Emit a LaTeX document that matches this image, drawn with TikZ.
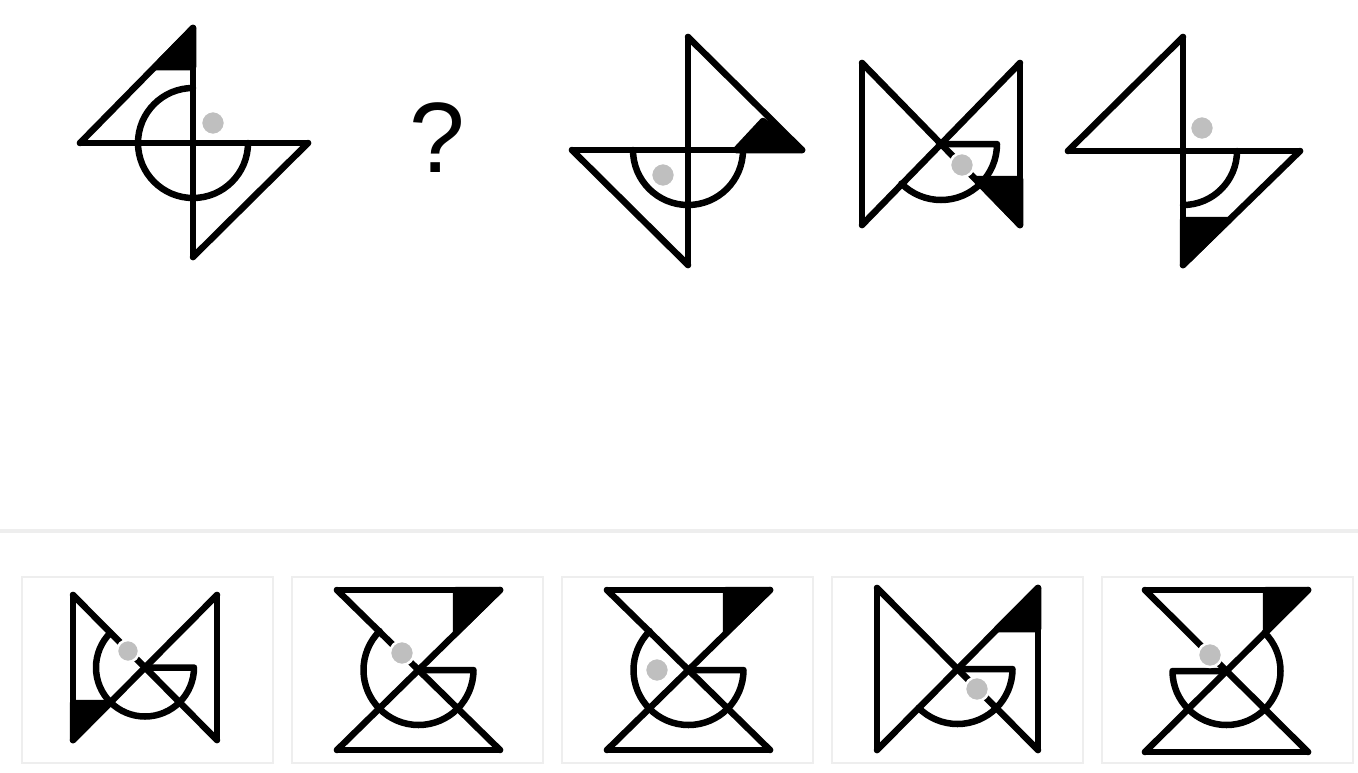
\documentclass[tikz,border=0pt]{standalone}
\usepackage{fontspec}
\usepackage{tikz}
\newfontfamily\askfont{Liberation Sans}

\begin{document}
\begin{tikzpicture}[x=1pt,y=-1pt,
    fig/.style={black,line width=6.5pt,line cap=round,line join=round},
    spot/.style={fill=gray!50,draw=white,line width=2.5pt},
    optbox/.style={draw=gray!13,line width=2pt},
    split/.style={draw=gray!13,line width=4pt}]

        \fill[white] (0,0) rectangle (1358,772);
        \useasboundingbox (0,0) rectangle (1358,772);

        \draw[fig] (80,143) -- (308,143);
        \draw[fig] (193,28) -- (193,257);
        \draw[fig] (80,143) -- (193,28);
        \draw[fig] (308,143) -- (193,257);
        \draw[fig] (193,143) ++(90:55pt) arc[start angle=90,end angle=360,radius=55pt];
        \filldraw[fig] (193,28) -- (155,67) -- (193,67) -- cycle;
        \draw[spot] (213,123) circle[radius=12pt];

        \node (ask) [anchor=base] at (437,172) {\askfont\fontsize{100}{120}\selectfont ?};

        \draw[fig] (572,150) -- (802,150);
        \draw[fig] (688,37) -- (688,265);
        \draw[fig] (688,37) -- (802,150);
        \draw[fig] (572,150) -- (688,265);
        \draw[fig] (688,150) ++(180:55pt) arc[start angle=180,end angle=360,radius=55pt];
        \filldraw[fig] (763,121) -- (802,150) -- (736,150) -- cycle;
        \draw[spot] (663,175) circle[radius=12pt];

        \draw[fig] (862,63) -- (862,225);
        \draw[fig] (1020,63) -- (1020,225);
        \draw[fig] (862,63) -- (1020,225);
        \draw[fig] (1020,63) -- (862,225);
        \draw[fig] (941,144) -- ++(0:56pt) arc[start angle=0,end angle=-135,radius=56pt];
        \filldraw[fig] (976,179) -- (1020,179) -- (1020,225) -- cycle;
        \draw[spot] (962,165) circle[radius=12pt];

        \draw[fig] (1068,151) -- (1300,151);
        \draw[fig] (1183,37) -- (1183,265);
        \draw[fig] (1068,151) -- (1183,37);
        \draw[fig] (1300,151) -- (1183,265);
        \draw[fig] (1183,151) ++(0:54pt) arc[start angle=0,end angle=-90,radius=54pt];
        \filldraw[fig] (1183,220) -- (1229,220) -- (1183,265) -- cycle;
        \draw[spot] (1202,128) circle[radius=12pt];

        \draw[split] (0,531) -- (1358,531);
        \foreach \bx in {22,292,562,832,1102}
            \draw[optbox] (\bx,577) rectangle ++(251,186);

        \draw[fig] (73,595) -- (73,740);
        \draw[fig] (217,595) -- (217,740);
        \draw[fig] (73,595) -- (217,740);
        \draw[fig] (217,595) -- (73,740);
        \draw[fig] (145,667.5) -- ++(0:49pt) arc[start angle=0,end angle=-225,radius=49pt];
        \filldraw[fig] (73,703) -- (110,703) -- (73,740) -- cycle;
        \draw[spot] (128,651) circle[radius=11pt];

        \draw[fig] (337,590) -- (500,590);
        \draw[fig] (337,750) -- (500,750);
        \draw[fig] (337,590) -- (500,750);
        \draw[fig] (500,590) -- (337,750);
        \draw[fig] (418.5,670) -- ++(0:55pt) arc[start angle=0,end angle=-225,radius=55pt];
        \filldraw[fig] (456,590) -- (500,590) -- (456,633) -- cycle;
        \draw[spot] (402,653) circle[radius=12pt];

        \draw[fig] (607,590) -- (770,590);
        \draw[fig] (607,750) -- (770,750);
        \draw[fig] (607,590) -- (770,750);
        \draw[fig] (770,590) -- (607,750);
        \draw[fig] (688.5,670) -- ++(0:55pt) arc[start angle=0,end angle=-225,radius=55pt];
        \filldraw[fig] (726,590) -- (770,590) -- (726,633) -- cycle;
        \draw[spot] (657,670) circle[radius=12pt];

        \draw[fig] (877,588) -- (877,750);
        \draw[fig] (1038,588) -- (1038,750);
        \draw[fig] (877,588) -- (1038,750);
        \draw[fig] (1038,588) -- (877,750);
        \draw[fig] (957.5,669) -- ++(0:55pt) arc[start angle=0,end angle=-135,radius=55pt];
        \filldraw[fig] (1038,588) -- (1038,629) -- (997,629) -- cycle;
        \draw[spot] (977,689) circle[radius=12pt];

        \draw[fig] (1145,590) -- (1308,590);
        \draw[fig] (1145,752) -- (1308,752);
        \draw[fig] (1145,590) -- (1308,752);
        \draw[fig] (1308,590) -- (1145,752);
        \draw[fig] (1226.5,671) -- ++(180:54pt) arc[start angle=180,end angle=405,radius=54pt];
        \filldraw[fig] (1266,590) -- (1308,590) -- (1266,632) -- cycle;
        \draw[spot] (1210,655) circle[radius=12pt];

\end{tikzpicture}
\end{document}
